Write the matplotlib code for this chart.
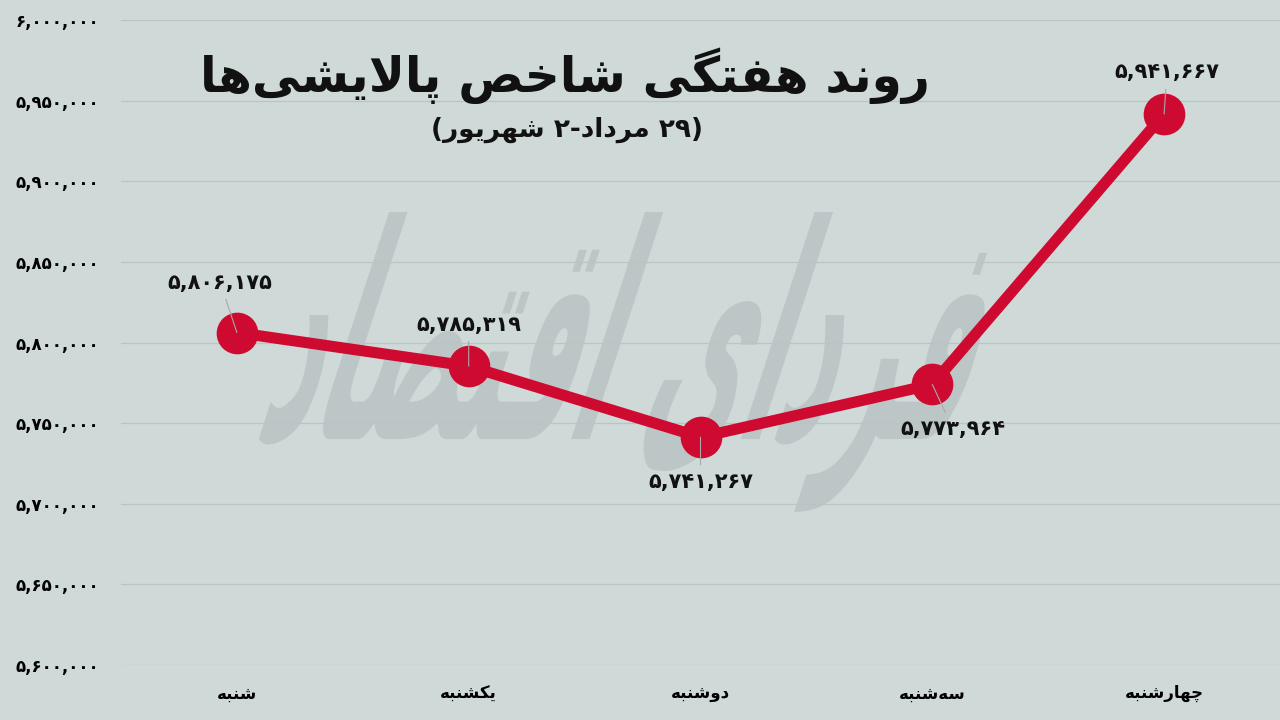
import numpy as np
import matplotlib
matplotlib.use("Agg")
import matplotlib.pyplot as plt
from matplotlib.textpath import TextPath
from matplotlib.patches import PathPatch
from matplotlib.font_manager import FontProperties
from matplotlib.transforms import Affine2D, IdentityTransform

days = ['شنبه', 'یکشنبه', 'دوشنبه', 'سه\u200cشنبه', 'چهارشنبه']
values = [5806175, 5785319, 5741267, 5773964, 5941667]
y_ticks = [5600000, 5650000, 5700000, 5750000, 5800000, 5850000, 5900000, 5950000, 6000000]
title = 'روند هفتگی شاخص پالایشی\u200cها'
sub_month1 = 'مرداد'
sub_month2 = 'شهریور'
sub_day1 = '29'
sub_day2 = '2'
watermark = 'فردای اقتصاد'

# label offsets in points (dx, dy) from each point
label_offsets = [(-12, 36), (0, 30), (0, -32), (15, -32), (2, 30)]

BG = '#cfd9d8'
RED = '#cf0a30'

FORMS = {
    'ا': ('\uFE8D', '\uFE8E', None, None),
    'ب': ('\uFE8F', '\uFE90', '\uFE91', '\uFE92'),
    'پ': ('\uFB56', '\uFB57', '\uFB58', '\uFB59'),
    'ت': ('\uFE95', '\uFE96', '\uFE97', '\uFE98'),
    'چ': ('\uFB7A', '\uFB7B', '\uFB7C', '\uFB7D'),
    'خ': ('\uFEA5', '\uFEA6', '\uFEA7', '\uFEA8'),
    'د': ('\uFEA9', '\uFEAA', None, None),
    'ر': ('\uFEAD', '\uFEAE', None, None),
    'س': ('\uFEB1', '\uFEB2', '\uFEB3', '\uFEB4'),
    'ش': ('\uFEB5', '\uFEB6', '\uFEB7', '\uFEB8'),
    'ص': ('\uFEB9', '\uFEBA', '\uFEBB', '\uFEBC'),
    'ف': ('\uFED1', '\uFED2', '\uFED3', '\uFED4'),
    'ق': ('\uFED5', '\uFED6', '\uFED7', '\uFED8'),
    'ک': ('\uFB8E', '\uFB8F', '\uFB90', '\uFB91'),
    'گ': ('\uFB92', '\uFB93', '\uFB94', '\uFB95'),
    'ل': ('\uFEDD', '\uFEDE', '\uFEDF', '\uFEE0'),
    'م': ('\uFEE1', '\uFEE2', '\uFEE3', '\uFEE4'),
    'ن': ('\uFEE5', '\uFEE6', '\uFEE7', '\uFEE8'),
    'ه': ('\uFEE9', '\uFEEA', '\uFEEB', '\uFEEC'),
    'و': ('\uFEED', '\uFEEE', None, None),
    'ی': ('\uFBFC', '\uFBFD', '\uFBFE', '\uFBFF'),
}


def shape(text):
    # crude persian shaping + reversal to visual order
    out = []
    n = len(text)
    i = 0
    while i < n:
        c = text[i]
        if c not in FORMS:
            if c != '\u200c':
                out.append(c)
            i += 1
            continue
        prev = text[i - 1] if i > 0 else ''
        joins_prev = prev in FORMS and FORMS[prev][2] is not None
        if c == 'ل' and i + 1 < n and text[i + 1] == 'ا':
            out.append('\uFEFC' if joins_prev else '\uFEFB')
            i += 2
            continue
        nxt = text[i + 1] if i + 1 < n else ''
        joins_next = FORMS[c][2] is not None and nxt in FORMS
        iso, fin, ini, med = FORMS[c]
        if joins_prev and joins_next:
            g = med
        elif joins_prev:
            g = fin
        elif joins_next:
            g = ini
        else:
            g = iso
        out.append(g)
        i += 1
    return ''.join(reversed(out))


def fa_digits(s):
    return s.translate(str.maketrans('0123456789', '۰۱۲۳۴۵۶۷۸۹'))


def fa_num(v):
    return fa_digits(f'{int(v):,}')


plt.rcParams['font.family'] = ['DejaVu Sans']

fig = plt.figure(figsize=(12.8, 7.2), dpi=100)
fig.patch.set_facecolor(BG)
ax = fig.add_axes([121 / 1280, 55 / 720, 1159 / 1280, 645 / 720])
ax.set_facecolor(BG)

# watermark, stretched and slanted text path (pixel coords)
fp = FontProperties(family='DejaVu Sans', weight='bold')
wpath = TextPath((0, 0), shape(watermark), size=1, prop=fp)
ext = wpath.get_extents()
tr = (Affine2D().translate(-ext.x0, -ext.y0)
      .scale(690 / ext.width, 300 / ext.height)
      .skew_deg(18, 0)
      .translate(235, 720 - 512))
wm = PathPatch(tr.transform_path(wpath), facecolor='#a4abab', edgecolor='none',
               alpha=0.4, transform=IdentityTransform(), zorder=0.2, clip_on=False)
ax.add_artist(wm)

x = np.arange(len(days))
ax.plot(x, values, color=RED, lw=8, marker='o', markersize=29,
        solid_capstyle='round', zorder=3)

for xi, v, (dx, dy) in zip(x, values, label_offsets):
    ax.annotate(fa_num(v), xy=(xi, v), xytext=(dx, dy), textcoords='offset points',
                ha='center', va='center', fontsize=15, fontweight='bold', color='#111111',
                arrowprops=dict(arrowstyle='-', color='#a8a8a8', lw=0.8,
                                shrinkA=3, shrinkB=0),
                zorder=5)

ax.set_xlim(-0.5, len(days) - 0.5)
ax.set_ylim(y_ticks[0], y_ticks[-1])
ax.set_yticks(y_ticks)
ax.set_yticklabels([fa_num(t) for t in y_ticks], fontsize=12, fontweight='bold')
ax.set_xticks(x)
ax.set_xticklabels([shape(d) for d in days], fontsize=12, fontweight='bold')
ax.tick_params(axis='y', length=0, pad=16)
ax.tick_params(axis='x', length=0, pad=14)
ax.grid(axis='y', color='#bcc3c3', lw=0.9)
ax.set_axisbelow(True)
for s in ax.spines.values():
    s.set_visible(False)

fig.text(565 / 1280, 1 - 76 / 720, shape(title), ha='center', va='center',
         fontsize=35, fontweight='bold', color='#111111')
# visual (left-to-right) order of the rtl subtitle
subtitle = ('(' + shape(sub_month2) + ' ' + fa_digits(sub_day2) + '-'
            + shape(sub_month1) + ' ' + fa_digits(sub_day1) + ')')
fig.text(567 / 1280, 1 - 130 / 720, subtitle, ha='center', va='center',
         fontsize=19, fontweight='bold', color='#111111')

fig.savefig('out.png', dpi=100, facecolor=BG)
